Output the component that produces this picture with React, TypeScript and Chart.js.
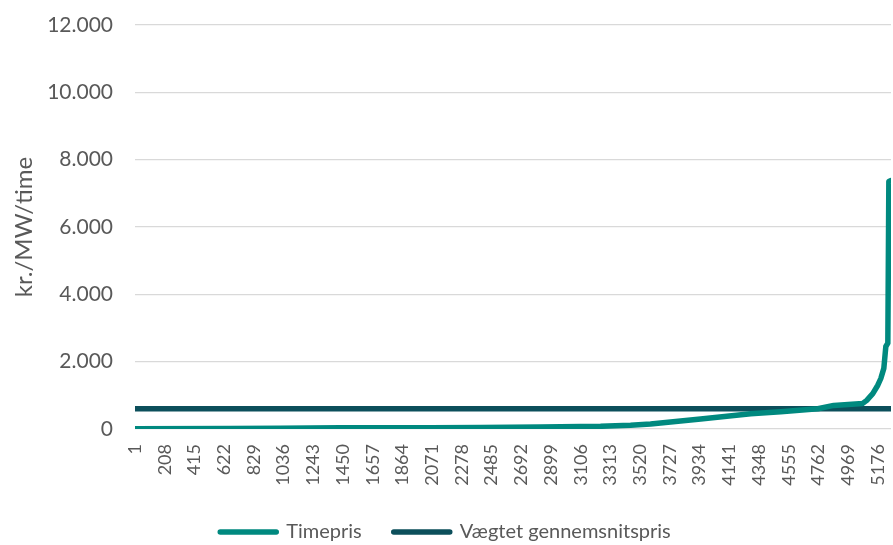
import React, { useEffect, useRef } from "react";
import { Chart, registerables } from "chart.js";

Chart.register(...registerables);

// Duration curve: hour rank (sorted) and hourly price, kr./MW/time
const HOURS = [1, 663, 1012, 1431, 2058, 2407, 2825, 3244, 3453, 3592, 3941, 4290, 4499, 4757, 4868, 5070, 5098, 5140, 5175, 5196, 5217, 5231, 5245, 5252, 5267];
const PRICES = [5, 15, 25, 35, 40, 45, 60, 80, 110, 150, 300, 450, 510, 600, 700, 760, 850, 1050, 1300, 1500, 1800, 2450, 2550, 7350, 7380];
const AVERAGE_PRICE = 600;
const X_TICKS = [1, 208, 415, 622, 829, 1036, 1243, 1450, 1657, 1864, 2071, 2278, 2485, 2692, 2899, 3106, 3313, 3520, 3727, 3934, 4141, 4348, 4555, 4762, 4969, 5176];
const Y_TICKS = [0, 2000, 4000, 6000, 8000, 10000, 12000];
const SERIES_NAMES = ["Timepris", "Vægtet gennemsnitspris"];

const FONT = "Lato, 'Open Sans', sans-serif";
const TEXT = "#595959";

export default function App() {
  const ref = useRef<HTMLCanvasElement | null>(null);
  useEffect(() => {
    document.body.style.margin = "0";
    const first = HOURS[0];
    const last = HOURS[HOURS.length - 1];
    const chart = new Chart(ref.current!, {
      type: "line",
      data: {
        datasets: [
          {
            label: SERIES_NAMES[0],
            data: HOURS.map((h, i) => ({ x: h, y: PRICES[i] })),
            borderColor: "#00897F",
            backgroundColor: "#00897F",
            borderWidth: 5.5,
            borderCapStyle: "round",
            borderJoinStyle: "round",
            pointRadius: 0,
            tension: 0,
          },
          {
            label: SERIES_NAMES[1],
            data: [
              { x: first, y: AVERAGE_PRICE },
              { x: last, y: AVERAGE_PRICE },
            ],
            borderColor: "#0C4F5B",
            backgroundColor: "#0C4F5B",
            borderWidth: 5.5,
            borderCapStyle: "butt",
            pointRadius: 0,
          },
        ],
      },
      options: {
        responsive: false,
        animation: false,
        layout: { padding: { top: 25, right: 2, left: 0, bottom: -7 } },
        plugins: {
          tooltip: { enabled: false },
          legend: {
            position: "bottom",
            labels: {
              usePointStyle: true,
              pointStyle: "line",
              pointStyleWidth: 56,
              padding: 32,
              color: TEXT,
              font: { family: FONT, size: 20 },
              generateLabels: (c: any) => {
                const items = Chart.defaults.plugins.legend.labels.generateLabels(c);
                items.forEach((it: any) => (it.lineCap = "round"));
                return items;
              },
            },
          },
        },
        scales: {
          x: {
            type: "linear",
            min: first,
            max: last,
            grid: { display: false, drawTicks: false },
            border: { display: false },
            afterBuildTicks: (s: any) => {
              s.ticks = X_TICKS.map((v) => ({ value: v }));
            },
            afterFit: (s: any) => {
              s.height = 61;
              s.paddingLeft = 0;
              s.paddingRight = 0;
            },
            ticks: {
              autoSkip: false,
              minRotation: 90,
              maxRotation: 90,
              padding: 15,
              color: TEXT,
              font: { family: FONT, size: 18 },
              callback: (v: any) => String(v),
            },
          },
          y: {
            min: 0,
            max: 12000,
            afterBuildTicks: (s: any) => {
              s.ticks = Y_TICKS.map((v) => ({ value: v }));
            },
            afterFit: (s: any) => {
              s.width = 135;
              s.paddingTop = 0;
              s.paddingBottom = 0;
            },
            grid: { color: "#D9D9D9", lineWidth: 1.3, drawTicks: false },
            border: { display: false },
            title: {
              display: true,
              text: "kr./MW/time",
              color: TEXT,
              font: { family: FONT, size: 24 },
              padding: { top: 10, bottom: 0 },
            },
            ticks: {
              padding: 22,
              color: TEXT,
              font: { family: FONT, size: 21 },
              callback: (v: any) => Number(v).toLocaleString("de-DE"),
            },
          },
        },
      },
    });
    return () => chart.destroy();
  }, []);
  return (
    <div style={{ width: 893, height: 545 }}>
      <canvas ref={ref} width={893} height={545} />
    </div>
  );
}
